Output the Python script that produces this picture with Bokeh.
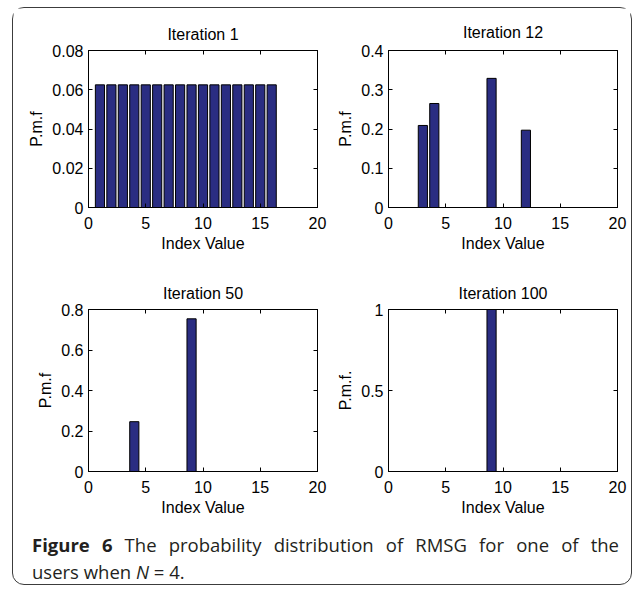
from bokeh.plotting import figure
from bokeh.layouts import row, column
from bokeh.models import LinearAxis, Div, Range1d, FixedTicker, NumeralTickFormatter, ColumnDataSource
from bokeh.embed import file_html
from bokeh.resources import INLINE

# ---------------- data ----------------
index_values = [1, 2, 3, 4, 5, 6, 7, 8, 9, 10, 11, 12, 13, 14, 15, 16]
pmf_iter1 = [0.0625, 0.0625, 0.0625, 0.0625, 0.0625, 0.0625, 0.0625, 0.0625,
             0.0625, 0.0625, 0.0625, 0.0625, 0.0625, 0.0625, 0.0625, 0.0625]
pmf_iter12 = [0, 0, 0.209, 0.265, 0, 0, 0, 0, 0.329, 0, 0, 0.197, 0, 0, 0, 0]
pmf_iter50 = [0, 0, 0, 0.246, 0, 0, 0, 0, 0.754, 0, 0, 0, 0, 0, 0, 0]
pmf_iter100 = [0, 0, 0, 0, 0, 0, 0, 0, 1.0, 0, 0, 0, 0, 0, 0, 0]

titles = ["Iteration 1", "Iteration 12", "Iteration 50", "Iteration 100"]
y_labels = ["P.m.f", "P.m.f", "P.m.f", "P.m.f."]
x_label = "Index Value"
x_ticks = [0, 5, 10, 15, 20]
y_ticks_1 = [0, 0.02, 0.04, 0.06, 0.08]
y_ticks_12 = [0, 0.1, 0.2, 0.3, 0.4]
y_ticks_50 = [0, 0.2, 0.4, 0.6, 0.8]
y_ticks_100 = [0, 0.5, 1]
caption_bold = "Figure 6"
caption_rest_1 = "The probability distribution of RMSG for one of the"
caption_rest_2 = "users when <i>N</i> = 4."

BAR_COLOR = "#2a2d82"
FONT = "Liberation Sans"
FS = "16px"


def panel(title, ylab, values, yticks, width, height, bl, br, bt, bb, title_standoff):
    p = figure(width=width, height=height,
               x_range=Range1d(0, 20), y_range=Range1d(yticks[0], yticks[-1]),
               output_backend="svg", toolbar_location=None, tools="",
               min_border_left=bl, min_border_right=br,
               min_border_top=bt, min_border_bottom=bb,
               title=title)
    p.title.align = "center"
    p.title.text_font = FONT
    p.title.text_font_size = FS
    p.title.text_font_style = "normal"
    p.title.text_color = "black"
    p.title.standoff = title_standoff
    p.background_fill_color = "white"
    p.border_fill_color = "white"
    p.outline_line_color = "black"
    p.outline_line_width = 1
    p.xgrid.visible = False
    p.ygrid.visible = False

    src = ColumnDataSource(dict(x=index_values, top=values))
    p.vbar(x="x", top="top", width=0.8, source=src,
           fill_color=BAR_COLOR, line_color="black", line_width=1)

    xt = FixedTicker(ticks=x_ticks)
    yt = FixedTicker(ticks=yticks)
    fmt = NumeralTickFormatter(format="0.[00]")

    for ax, tk in ((p.xaxis[0], xt), (p.yaxis[0], yt)):
        ax.ticker = tk
        ax.formatter = fmt
        ax.major_tick_in = 4
        ax.major_tick_out = 0
        ax.minor_tick_line_color = None
        ax.axis_line_color = "black"
        ax.major_tick_line_color = "black"
        ax.major_label_text_font = FONT
        ax.major_label_text_font_size = FS
        ax.major_label_text_color = "black"
        ax.axis_label_text_font = FONT
        ax.axis_label_text_font_size = FS
        ax.axis_label_text_font_style = "normal"
        ax.axis_label_text_color = "black"
    p.xaxis[0].major_label_standoff = 9
    p.yaxis[0].major_label_standoff = 5
    p.xaxis[0].axis_label = x_label
    p.xaxis[0].axis_label_standoff = 3
    p.yaxis[0].axis_label = ylab
    p.yaxis[0].axis_label_standoff = 4

    for loc, tk in (("above", FixedTicker(ticks=x_ticks)), ("right", FixedTicker(ticks=yticks))):
        a = LinearAxis(ticker=tk, major_tick_in=4, major_tick_out=0,
                       minor_tick_line_color=None, axis_line_color="black",
                       major_tick_line_color="black",
                       major_label_text_font_size="1px",
                       major_label_text_color=None, major_label_text_alpha=0,
                       major_label_standoff=0)
        p.add_layout(a, loc)
    return p


p1 = panel(titles[0], y_labels[0], pmf_iter1, y_ticks_1, 315, 254, 75, 11, 42, 55, 15)
p2 = panel(titles[1], y_labels[1], pmf_iter12, y_ticks_12, 302, 254, 60, 13, 40, 50, 19)
p3 = panel(titles[2], y_labels[2], pmf_iter50, y_ticks_50, 315, 256, 75, 11, 47, 45, 15)
p4 = panel(titles[3], y_labels[3], pmf_iter100, y_ticks_100, 302, 256, 60, 13, 47, 45, 15)

caption_html = (
    '<div style="box-sizing:border-box;width:617px;padding:13px 11px 0 19px;'
    'font-family:\'Open Sans\',sans-serif;font-size:18.5px;line-height:27px;color:#231f20;">'
    '<div style="display:block;width:100%;text-align:justify;text-align-last:justify;">'
    '<b>' + caption_bold + '</b> ' + caption_rest_1 + '</div>'
    '<div style="display:block;">' + caption_rest_2 + '</div>'
    '</div>'
)
cap = Div(text=caption_html, width=617, height=65, margin=0,
          styles={"overflow": "visible"})

layout = column(row(p1, p2), row(p3, p4), cap,
                width=620, height=578, sizing_mode="fixed",
                margin=(7, 0, 0, 12),
                styles={"border": "1.5px solid #3c3c3c", "border-radius": "12px",
                        "background-color": "white", "box-sizing": "border-box"})

open("out.html", "w").write(file_html(layout, INLINE))
